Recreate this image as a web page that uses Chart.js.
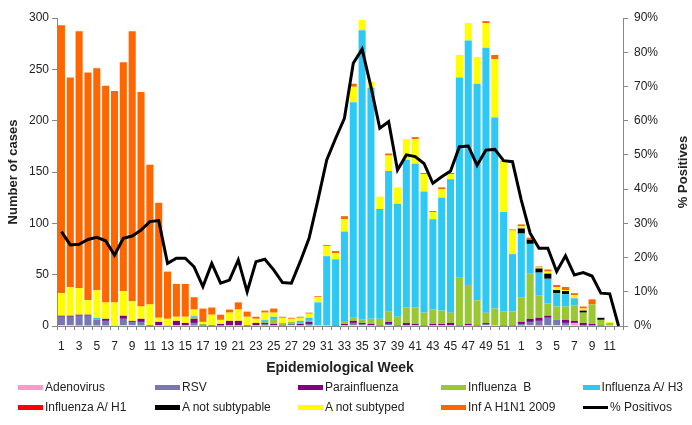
<!DOCTYPE html>
<html>
<head>
<meta charset="utf-8">
<script src="https://cdn.jsdelivr.net/npm/chart.js@4.4.1/dist/chart.umd.min.js"></script>
<style>
  body { margin: 0; background: #fff; }
  #wrap { position: relative; width: 692px; height: 425px; }
  #legend {
    position: absolute; left: 18px; top: 377px;
    display: grid;
    grid-template-columns: 137px 143px 143px 142px 100px;
    grid-auto-rows: 20px;
    font-family: "Liberation Sans", Arial, sans-serif;
    font-size: 12px; color: #222;
  }
  .item { display: flex; align-items: center; white-space: pre; }
  .sw { width: 25px; height: 5px; margin-right: 2px; }
</style>
</head>
<body>
<div id="wrap">
  <canvas id="epiChart" width="692" height="425"></canvas>
  <div id="legend"></div>
</div>
<script>
// weeks: 2009 wk 1-52, then 2010 wk 1-12
const weeks = ['1','2','3','4','5','6','7','8','9','10','11','12','13','14','15','16','17','18','19','20',
  '21','22','23','24','25','26','27','28','29','30','31','32','33','34','35','36','37','38','39','40',
  '41','42','43','44','45','46','47','48','49','50','51','52',
  '1','2','3','4','5','6','7','8','9','10','11','12'];

const adenovirus = [1,1,0,0,0,0,1,1,1,0,0,0, 0,0,0,0,0,0,0,0,0,0,0,0, 0,0,1,0,0,0,0,0,0,1,1,0,
  0,1,0,0,0,0,0,0,0,0,0,0, 1,0,0,0, 0,1,0,1,1,0,3,0,0,0,0,0];
const rsv = [8,8,10,10,6,5,0,6,3,4,0,1, 0,1,1,3,0,0,0,1,1,0,1,2, 1,0,1,1,2,0,0,0,1,2,1,1,
  0,1,0,1,1,0,1,1,1,0,1,0, 1,0,0,0, 2,3,5,7,5,3,0,0,0,0,0,0];
const parainfluenza = [1,1,1,1,0,2,0,3,1,3,1,3, 0,4,2,4,1,1,2,4,4,1,2,1, 1,1,0,1,2,0,0,1,1,2,1,1,
  1,2,1,2,1,1,1,1,2,1,1,1, 1,0,1,1, 2,3,3,2,0,3,2,3,2,1,0,0];
const influenzaB = [0,0,0,0,0,0,0,0,0,0,0,0, 1,0,0,2,1,0,0,0,0,0,0,2, 4,2,2,1,1,1,0,0,2,3,3,5,
  6,10,8,15,16,12,14,13,10,46,38,24, 10,17,13,13, 24,44,22,12,13,13,15,10,19,5,3,0];
const influenzaH3 = [0,0,0,0,2,0,0,0,0,0,0,0, 0,0,0,1,0,0,0,0,0,0,0,1, 3,0,0,2,3,22,68,64,88,210,282,225,
  107,137,110,144,140,118,88,110,130,195,238,211, 258,186,97,56, 62,29,22,24,13,12,7,0,0,0,0,0];
const influenzaH1 = [0,0,0,0,0,0,0,0,0,0,0,0, 0,0,0,0,0,0,0,0,0,0,0,0, 0,0,0,0,0,0,0,0,0,0,0,0,
  0,0,0,0,0,0,0,0,0,0,0,0, 0,0,0,0, 0,0,0,0,0,0,0,0,0,0,0,0];
const notSubtypable = [0,0,0,0,0,0,0,0,0,0,0,0, 0,0,0,0,0,0,0,0,0,0,0,0, 0,0,0,0,0,0,0,0,0,0,0,0,
  0,0,0,0,0,0,0,0,0,0,0,0, 0,0,0,0, 5,4,4,5,3,3,0,2,0,2,0,0];
const notSubtyped = [22,28,26,14,27,16,22,24,19,12,20,4, 6,4,6,6,2,10,4,8,11,8,4,7, 4,5,3,3,4,5,10,6,12,15,10,6,
  12,15,16,20,24,17,7,8,5,22,17,26, 24,57,49,23, 2,0,1,2,3,1,3,2,0,0,1,0];
const h1n1 = [261,204,250,222,216,211,206,223,263,209,136,112, 46,32,32,12,13,7,5,3,7,5,2,2,
  4,1,1,1,1,1,1,2,3,3,0,0, 0,2,0,0,2,1,1,2,1,0,0,0, 2,4,1,1, 2,2,1,2,2,3,2,2,5,0,0,0];
// % positive samples
const positives = [27.6,23.7,23.9,25.3,25.9,24.9,20.7,25.6,26.3,28.0,30.5,30.8,
  18.3,19.8,19.8,17.3,11.5,18.3,12.5,13.4,19.3,10.0,18.8,19.5,
  16.4,12.7,12.5,18.8,25.6,36.8,48.5,54.8,60.7,76.8,80.9,69.9,
  57.8,59.7,45.6,50.0,49.5,47.5,41.7,43.6,45.3,52.4,52.6,47.0,
  51.4,51.6,48.3,48.0,
  36.8,27.1,22.7,22.7,15.9,20.5,14.9,15.6,14.6,9.6,9.4,0];

const font = "'Liberation Sans', Arial, sans-serif";
Chart.defaults.font.family = font;
Chart.defaults.color = '#222';

function bar(label, data, color) {
  return { type: 'bar', label: label, data: data, backgroundColor: color, borderWidth: 0,
    yAxisID: 'y', stack: 'cases', order: 1, barPercentage: 0.8, categoryPercentage: 1 };
}

const datasets = [
  bar('Adenovirus', adenovirus, '#ff99cc'),
  bar('RSV', rsv, '#7777b5'),
  bar('Parainfluenza', parainfluenza, '#800080'),
  bar('Influenza  B', influenzaB, '#99c832'),
  bar('Influenza A/ H3', influenzaH3, '#2ec8f4'),
  bar('Influenza A/ H1', influenzaH1, '#ff0000'),
  bar('A not subtypable', notSubtypable, '#000000'),
  bar('A not subtyped', notSubtyped, '#ffff00'),
  bar('Inf A H1N1 2009', h1n1, '#ff6600'),
  { type: 'line', label: '% Positivos', data: positives, yAxisID: 'y1', order: 0,
    borderColor: '#000', borderWidth: 3, pointRadius: 0, tension: 0, fill: false }
];

// right axis title reads bottom-to-top like the left one
const rightTitle = {
  id: 'rightTitle',
  afterDraw: function (chart) {
    const c = chart.ctx, a = chart.chartArea;
    c.save();
    c.translate(683, (a.top + a.bottom) / 2);
    c.rotate(-Math.PI / 2);
    c.font = 'bold 13px ' + font;
    c.fillStyle = '#222';
    c.textAlign = 'center';
    c.textBaseline = 'middle';
    c.fillText('% Positives', 0, 0);
    c.restore();
  }
};

const ctx = document.getElementById('epiChart');
new Chart(ctx, {
  data: { labels: weeks, datasets: datasets },
  plugins: [rightTitle],
  options: {
    responsive: false,
    animation: false,
    devicePixelRatio: 1,
    layout: { padding: { top: 18, bottom: 45, left: 0, right: 0 } },
    plugins: { legend: { display: false }, tooltip: { enabled: false } },
    scales: {
      x: {
        stacked: true,
        afterFit: function (s) { s.height = 54; },
        grid: { drawOnChartArea: false, tickLength: 4, color: '#888', offset: true },
        border: { color: '#888' },
        ticks: {
          autoSkip: false, maxRotation: 0, padding: 9, font: { size: 12 },
          callback: function (v, i) { return i % 2 === 0 ? weeks[i] : ''; }
        },
        title: { display: true, text: 'Epidemiological Week', font: { size: 14, weight: 'bold' }, padding: { top: 2, bottom: 3 } }
      },
      y: {
        stacked: true, min: 0, max: 300,
        afterFit: function (s) { s.width = 57; },
        grid: { drawOnChartArea: false, tickLength: 5, color: '#888' },
        border: { color: '#888' },
        ticks: { stepSize: 50, font: { size: 12 }, padding: 3 },
        title: { display: true, text: 'Number of cases', font: { size: 13, weight: 'bold' }, padding: { top: 6, bottom: 0 } }
      },
      y1: {
        position: 'right', min: 0, max: 90,
        afterFit: function (s) { s.width = 69; },
        grid: { drawOnChartArea: false, tickLength: 5, color: '#888' },
        border: { color: '#888' },
        ticks: { stepSize: 10, font: { size: 12 }, padding: 6,
          callback: function (v) { return v + '%'; } },
        title: { display: false }
      }
    }
  }
});

// legend laid out like the original, 5 columns x 2 rows
const legend = document.getElementById('legend');
datasets.forEach(function (d) {
  const item = document.createElement('div');
  item.className = 'item';
  const sw = document.createElement('span');
  sw.className = 'sw';
  if (d.type === 'line') {
    sw.style.height = '3px';
    sw.style.background = d.borderColor;
  } else {
    sw.style.background = d.backgroundColor;
  }
  item.appendChild(sw);
  item.appendChild(document.createTextNode(d.label));
  legend.appendChild(item);
});
</script>
</body>
</html>
